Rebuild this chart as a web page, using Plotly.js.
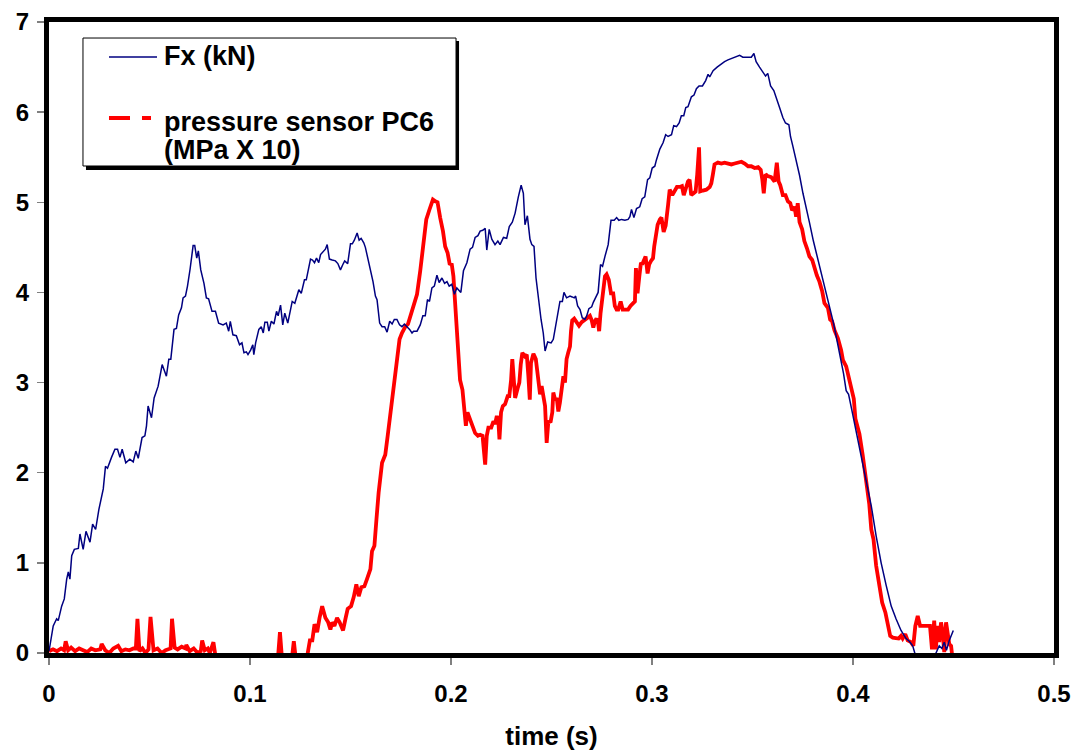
<!DOCTYPE html>
<html>
<head>
<meta charset="utf-8">
<script src="https://cdn.plot.ly/plotly-3.0.1.min.js"></script>
<style>html,body{margin:0;padding:0;background:#fff;}#chart{width:1076px;height:751px;}</style>
</head>
<body>
<div id="chart"></div>
<script>
const fxTime = [0,0.0021,0.0038,0.0046,0.0063,0.0076,0.0088,0.0096,0.0104,0.0113,0.0126,0.0146,0.0154,0.0170,0.0184,0.0204,0.0217,0.0232,0.0248,0.0270,0.0281,0.0291,0.0311,0.0328,0.0341,0.0353,0.0364,0.0382,0.0402,0.0419,0.0432,0.0444,0.0463,0.0477,0.0485,0.0493,0.0510,0.0523,0.0543,0.0563,0.0584,0.0596,0.0606,0.0622,0.0634,0.0645,0.0659,0.0667,0.0679,0.0689,0.0702,0.0717,0.0725,0.0735,0.0743,0.0755,0.0771,0.0783,0.0794,0.0811,0.0828,0.0844,0.0866,0.0882,0.0894,0.0902,0.0915,0.0932,0.0948,0.0960,0.0970,0.0982,0.0990,0.1003,0.1014,0.1019,0.1028,0.1044,0.1056,0.1066,0.1074,0.1086,0.1094,0.1106,0.1119,0.1132,0.1140,0.1152,0.1163,0.1173,0.1188,0.1210,0.1223,0.1231,0.1243,0.1255,0.1271,0.1280,0.1301,0.1311,0.1321,0.1331,0.1342,0.1351,0.1364,0.1375,0.1384,0.1395,0.1409,0.1425,0.1437,0.1450,0.1462,0.1471,0.1486,0.1500,0.1509,0.1519,0.1533,0.1543,0.1553,0.1566,0.1574,0.1586,0.1599,0.1612,0.1624,0.1632,0.1645,0.1657,0.1670,0.1682,0.1695,0.1707,0.1718,0.1731,0.1744,0.1756,0.1768,0.1781,0.1794,0.1806,0.1814,0.1831,0.1847,0.1860,0.1872,0.1883,0.1893,0.1905,0.1917,0.1930,0.1941,0.1955,0.1968,0.1980,0.1991,0.2004,0.2017,0.2029,0.2042,0.2049,0.2062,0.2079,0.2095,0.2107,0.2120,0.2134,0.2145,0.2158,0.2170,0.2178,0.2190,0.2203,0.2219,0.2233,0.2244,0.2261,0.2277,0.2290,0.2305,0.2319,0.2335,0.2349,0.2360,0.2368,0.2380,0.2393,0.2402,0.2413,0.2423,0.2435,0.2448,0.2459,0.2468,0.2481,0.2498,0.2509,0.2522,0.2534,0.2542,0.2554,0.2562,0.2575,0.2592,0.2603,0.2613,0.2620,0.2630,0.2642,0.2653,0.2666,0.2675,0.2686,0.2700,0.2708,0.2719,0.2732,0.2744,0.2754,0.2766,0.2782,0.2796,0.2812,0.2824,0.2835,0.2849,0.2865,0.2881,0.2890,0.2898,0.2910,0.2923,0.2939,0.2951,0.2964,0.2978,0.2989,0.3001,0.3014,0.3022,0.3039,0.3055,0.3068,0.3080,0.3097,0.3108,0.3122,0.3135,0.3146,0.3158,0.3168,0.3179,0.3196,0.3209,0.3221,0.3234,0.3251,0.3267,0.3279,0.3287,0.3304,0.3324,0.3341,0.3361,0.3378,0.3400,0.3420,0.3436,0.3452,0.3472,0.3494,0.3507,0.3518,0.3535,0.3551,0.3565,0.3576,0.3590,0.3606,0.3618,0.3635,0.3651,0.3664,0.3681,0.3689,0.3701,0.3717,0.3734,0.3751,0.3767,0.3783,0.3803,0.3820,0.3837,0.3853,0.3870,0.3886,0.3903,0.3920,0.3936,0.3953,0.3966,0.3978,0.3992,0.4016,0.4041,0.4066,0.4091,0.4115,0.4140,0.4165,0.4190,0.4214,0.4239,0.4264,0.4280,0.4297,0.4310,0.4350,0.4390,0.4409,0.4429,0.4442,0.4454,0.4465,0.4479,0.4499];
const fxValue = [0.02,0.30,0.38,0.36,0.52,0.60,0.82,0.90,0.82,1.08,1.15,1.16,1.32,1.15,1.35,1.23,1.43,1.37,1.59,1.82,2.07,2.05,2.17,2.26,2.26,2.17,2.26,2.11,2.15,2.12,2.24,2.16,2.39,2.41,2.52,2.74,2.61,2.83,2.96,3.20,3.07,3.26,3.26,3.59,3.60,3.75,3.83,3.94,3.96,4.07,4.26,4.52,4.52,4.38,4.46,4.25,4.10,3.94,3.93,3.79,3.79,3.66,3.64,3.66,3.57,3.68,3.53,3.52,3.42,3.44,3.33,3.34,3.31,3.36,3.42,3.31,3.44,3.59,3.62,3.55,3.67,3.67,3.57,3.68,3.65,3.79,3.74,3.86,3.64,3.77,3.66,3.90,3.88,3.94,4.03,3.99,4.14,4.14,4.37,4.36,4.33,4.38,4.33,4.42,4.46,4.48,4.53,4.37,4.36,4.35,4.32,4.25,4.31,4.35,4.32,4.54,4.54,4.58,4.66,4.58,4.60,4.55,4.50,4.38,4.27,4.12,3.96,3.92,3.66,3.62,3.62,3.56,3.68,3.65,3.70,3.70,3.64,3.62,3.65,3.62,3.59,3.55,3.57,3.57,3.64,3.74,3.74,3.92,3.90,4.05,4.07,4.19,4.11,4.16,4.10,4.12,4.07,4.09,3.98,4.05,4.02,4.00,4.24,4.33,4.48,4.50,4.61,4.63,4.68,4.69,4.71,4.47,4.70,4.59,4.53,4.57,4.53,4.61,4.60,4.73,4.78,4.88,5.06,5.19,5.10,4.75,4.85,4.59,4.53,4.51,4.16,3.92,3.70,3.55,3.35,3.45,3.44,3.48,3.64,3.77,3.90,3.90,4.00,3.94,3.96,3.95,3.94,3.96,3.85,3.81,3.72,3.70,3.74,3.82,3.84,3.89,3.94,4.00,4.31,4.29,4.40,4.53,4.80,4.80,4.83,4.80,4.81,4.80,4.81,4.84,4.92,4.83,4.93,4.95,5.04,5.06,5.25,5.27,5.38,5.40,5.47,5.59,5.66,5.75,5.73,5.75,5.85,5.84,5.88,5.96,5.96,6.05,6.06,6.17,6.19,6.26,6.29,6.29,6.35,6.42,6.39,6.46,6.50,6.53,6.56,6.58,6.60,6.62,6.63,6.61,6.61,6.61,6.65,6.56,6.50,6.45,6.40,6.43,6.29,6.24,6.15,6.05,5.94,5.88,5.86,5.73,5.62,5.47,5.30,5.10,4.95,4.78,4.57,4.42,4.27,4.12,3.96,3.83,3.66,3.47,3.30,3.10,2.91,2.87,2.72,2.46,2.20,1.93,1.63,1.30,1.00,0.75,0.52,0.38,0.25,0.16,0.13,0.08,-0.02,-0.12,-0.08,-0.02,0.08,0.05,0.12,0.03,0.14,0.25];

const pcTime = [0,0.002,0.004,0.006,0.0075,0.0083,0.0095,0.011,0.013,0.015,0.017,0.019,0.021,0.023,0.0255,0.0262,0.028,0.030,0.032,0.0344,0.036,0.038,0.040,0.042,0.0432,0.0440,0.0450,0.0465,0.048,0.0495,0.0505,0.0515,0.052,0.054,0.056,0.058,0.0605,0.0612,0.0625,0.064,0.066,0.068,0.0683,0.070,0.072,0.074,0.0755,0.0762,0.0775,0.079,0.080,0.0818,0.0828,0.090,0.100,0.110,0.1140,0.1149,0.1158,0.1210,0.1218,0.1226,0.1285,0.1298,0.1310,0.1321,0.1334,0.1346,0.1359,0.1375,0.1389,0.1400,0.1409,0.1420,0.1433,0.1446,0.1463,0.1475,0.1486,0.1503,0.1516,0.1529,0.1541,0.1554,0.1569,0.1582,0.1599,0.1607,0.1619,0.1629,0.1640,0.1657,0.1673,0.1685,0.1698,0.1715,0.1731,0.1744,0.1756,0.1773,0.1786,0.1801,0.1817,0.1831,0.1847,0.1864,0.1877,0.1893,0.1910,0.1922,0.1933,0.1946,0.1960,0.1971,0.1983,0.1993,0.2004,0.2012,0.2021,0.2029,0.2037,0.2045,0.2057,0.2067,0.2074,0.2082,0.2095,0.2107,0.2120,0.2134,0.2145,0.2157,0.2161,0.2170,0.2178,0.2186,0.2200,0.2211,0.2219,0.2228,0.2236,0.2241,0.2249,0.2258,0.2269,0.2282,0.2290,0.2299,0.2305,0.2310,0.2319,0.2332,0.2340,0.2347,0.2355,0.2368,0.2377,0.2385,0.2392,0.2398,0.2410,0.2422,0.2431,0.2443,0.2451,0.2459,0.2468,0.2476,0.2484,0.2496,0.2504,0.2509,0.2518,0.2526,0.2534,0.2542,0.2551,0.2559,0.2567,0.2575,0.2583,0.2592,0.2597,0.2603,0.2613,0.2625,0.2637,0.2650,0.2666,0.2680,0.2691,0.2700,0.2708,0.2716,0.2724,0.2732,0.2737,0.2744,0.2749,0.2757,0.2766,0.2774,0.2785,0.2796,0.2807,0.2815,0.2824,0.2832,0.2844,0.2854,0.2865,0.2881,0.2893,0.2906,0.2915,0.2920,0.2928,0.2937,0.2945,0.2951,0.2961,0.2968,0.2978,0.2986,0.2995,0.3005,0.3011,0.3020,0.3028,0.3039,0.3047,0.3058,0.3068,0.3080,0.3088,0.3101,0.3113,0.3124,0.3138,0.3149,0.3158,0.3168,0.3179,0.3187,0.3195,0.3207,0.3217,0.3225,0.3234,0.3237,0.3240,0.3253,0.3270,0.3287,0.3295,0.3303,0.3311,0.3328,0.3345,0.3361,0.3378,0.3395,0.3411,0.3428,0.3445,0.3461,0.3478,0.3494,0.3511,0.3528,0.3541,0.3549,0.3556,0.3565,0.3576,0.3593,0.3610,0.3621,0.3630,0.3638,0.3651,0.3664,0.3676,0.3688,0.3697,0.3709,0.3717,0.3725,0.3734,0.3747,0.3758,0.3771,0.3783,0.3797,0.3808,0.3820,0.3833,0.3847,0.3858,0.3875,0.3886,0.3896,0.3908,0.3925,0.3941,0.3950,0.3966,0.3980,0.3991,0.4004,0.4012,0.4024,0.4032,0.4048,0.4066,0.4081,0.4091,0.4102,0.4115,0.4128,0.4145,0.4161,0.4173,0.4185,0.4198,0.4214,0.4227,0.4239,0.4247,0.4260,0.4272,0.4289,0.4300,0.4310,0.4322,0.4334,0.4350,0.4371,0.4383,0.4393,0.4404,0.4412,0.4421,0.4429,0.4438,0.4446,0.4454,0.4463,0.4471,0.4479,0.4488,0.4493];
const pcValue = [0.02,0.04,0.02,0.05,0.03,0.13,0.03,0.06,0.02,0.05,0.03,0.01,0.05,0.03,0.04,0.10,0.03,0.00,0.05,0.08,0.02,0.04,0.03,0.05,0.05,0.38,0.02,0.05,0.00,0.04,0.40,0.20,0.03,0.05,0.00,0.03,0.05,0.38,0.06,0.04,0.07,0.05,0.09,0.02,0.05,0.00,0.02,0.14,0.03,0.05,0.00,0.12,-0.03,-0.03,-0.03,-0.03,-0.03,0.23,-0.03,-0.03,0.13,-0.03,-0.03,0.14,0.14,0.32,0.23,0.39,0.52,0.39,0.34,0.26,0.34,0.30,0.39,0.34,0.25,0.38,0.49,0.52,0.62,0.76,0.63,0.73,0.74,0.82,0.93,1.13,1.19,1.48,1.78,2.11,2.20,2.41,2.65,2.92,3.22,3.48,3.55,3.62,3.65,3.77,3.90,3.98,4.24,4.55,4.81,4.92,5.03,5.01,5.00,4.83,4.68,4.51,4.44,4.32,4.31,4.18,3.85,3.55,3.26,3.03,2.92,2.70,2.52,2.67,2.58,2.52,2.44,2.41,2.42,2.41,2.31,2.09,2.41,2.50,2.50,2.57,2.54,2.63,2.56,2.37,2.67,2.74,2.76,2.85,2.85,3.03,3.26,3.07,2.83,2.94,3.00,3.20,3.33,3.29,3.31,3.07,2.81,3.22,3.32,3.26,3.07,2.87,2.96,2.85,2.74,2.33,2.56,2.57,2.67,2.89,2.81,2.83,2.68,2.78,2.98,3.07,3.00,3.26,3.33,3.40,3.57,3.69,3.71,3.66,3.63,3.67,3.70,3.72,3.74,3.69,3.61,3.68,3.71,3.66,3.57,3.77,3.88,4.03,4.18,4.20,4.14,3.99,3.99,3.85,3.81,3.81,3.90,3.81,3.81,3.81,3.85,3.89,3.90,4.27,3.99,4.18,4.33,4.31,4.38,4.40,4.21,4.31,4.35,4.38,4.51,4.64,4.75,4.81,4.83,4.67,4.74,4.97,5.14,5.08,5.13,5.17,5.17,5.18,5.08,5.17,5.23,5.25,5.08,5.10,5.12,5.31,5.61,5.38,5.12,5.13,5.14,5.17,5.21,5.31,5.42,5.44,5.43,5.44,5.43,5.42,5.43,5.44,5.45,5.43,5.40,5.40,5.38,5.39,5.36,5.25,5.10,5.31,5.29,5.28,5.23,5.44,5.23,5.19,5.08,5.08,5.01,4.99,4.91,4.95,4.84,4.99,4.78,4.70,4.57,4.49,4.40,4.36,4.27,4.19,4.12,4.01,3.88,3.83,3.70,3.68,3.58,3.49,3.36,3.25,3.18,3.05,2.97,2.82,2.60,2.50,2.43,2.20,1.93,1.65,1.37,1.26,0.97,0.78,0.56,0.45,0.30,0.19,0.17,0.17,0.16,0.19,0.16,0.21,0.14,0.12,0.08,0.30,0.41,0.30,0.30,0.30,0.30,0.04,0.36,0.04,0.30,0.12,0.34,0.23,0.01,0.34,0.23,0.10,0.08,-0.02];

const seriesNames = ['Fx (kN)', 'pressure sensor PC6', '(MPa X 10)'];
const xTicks = [0, 0.1, 0.2, 0.3, 0.4, 0.5];
const xTickText = ['0', '0.1', '0.2', '0.3', '0.4', '0.5'];
const yTicks = [0, 1, 2, 3, 4, 5, 6, 7];

const FONT = '"Liberation Sans", Arial, sans-serif';
const BLUE = '#000080';
const RED = '#FF0000';

const traces = [
  {x: pcTime, y: pcValue, type: 'scatter', mode: 'lines', name: seriesNames[1] + ' ' + seriesNames[2],
   showlegend: false, line: {color: RED, width: 3.8}, hoverinfo: 'skip'},
  {x: fxTime, y: fxValue, type: 'scatter', mode: 'lines', name: seriesNames[0],
   showlegend: false, line: {color: BLUE, width: 1.5}}
];

const axisCommon = {
  showline: true, linewidth: 5, linecolor: '#000', mirror: true,
  showgrid: false, zeroline: false,
  ticks: 'outside', ticklen: 7, tickwidth: 1.5, tickcolor: '#808080',
  tickfont: {family: FONT, size: 24, color: '#000', weight: 'bold'}
};

// legend box drawn in paper coordinates (plot area 49..1054 x 22..653 px)
const legFont = {family: FONT, size: 27, color: '#000', weight: 'bold'};
const layout = {
  width: 1076, height: 751,
  margin: {l: 49, r: 22, t: 22, b: 98},
  paper_bgcolor: '#fff', plot_bgcolor: '#fff',
  font: {family: FONT, color: '#000'},
  showlegend: false,
  xaxis: Object.assign({}, axisCommon, {
    range: [0, 0.5], tickvals: xTicks, ticktext: xTickText, ticklabelstandoff: 8,
    title: {text: 'time (s)', font: {family: FONT, size: 26, color: '#000', weight: 'bold'}}
  }),
  yaxis: Object.assign({}, axisCommon, {
    range: [0, 7], tickvals: yTicks, ticklabelstandoff: 3
  }),
  shapes: [
    {type: 'rect', xref: 'paper', yref: 'paper', x0: 0.0368, x1: 0.4080, y0: 0.7655, y1: 0.9700,
     line: {width: 0}, fillcolor: '#000', layer: 'above'},
    {type: 'rect', xref: 'paper', yref: 'paper', x0: 0.0338, x1: 0.4050, y0: 0.7718, y1: 0.9746,
     line: {width: 1, color: '#000'}, fillcolor: '#fff', layer: 'above'},
    {type: 'line', xref: 'paper', yref: 'paper', x0: 0.0597, x1: 0.1075, y0: 0.9445, y1: 0.9445,
     line: {color: BLUE, width: 1.5}, layer: 'above'},
    {type: 'line', xref: 'paper', yref: 'paper', x0: 0.0597, x1: 0.1015, y0: 0.8479, y1: 0.8479,
     line: {color: RED, width: 3.8, dash: '21px,12px,9px'}, layer: 'above'}
  ],
  annotations: [
    {xref: 'paper', yref: 'paper', x: 0.1124, y: 0.9460, xanchor: 'left', yanchor: 'middle',
     text: seriesNames[0], showarrow: false, font: legFont},
    {xref: 'paper', yref: 'paper', x: 0.1124, y: 0.8415, xanchor: 'left', yanchor: 'middle',
     text: seriesNames[1], showarrow: false, font: legFont},
    {xref: 'paper', yref: 'paper', x: 0.1124, y: 0.7971, xanchor: 'left', yanchor: 'middle',
     text: seriesNames[2], showarrow: false, font: legFont}
  ]
};

Plotly.newPlot('chart', traces, layout, {displayModeBar: false, staticPlot: true});
</script>
</body>
</html>
